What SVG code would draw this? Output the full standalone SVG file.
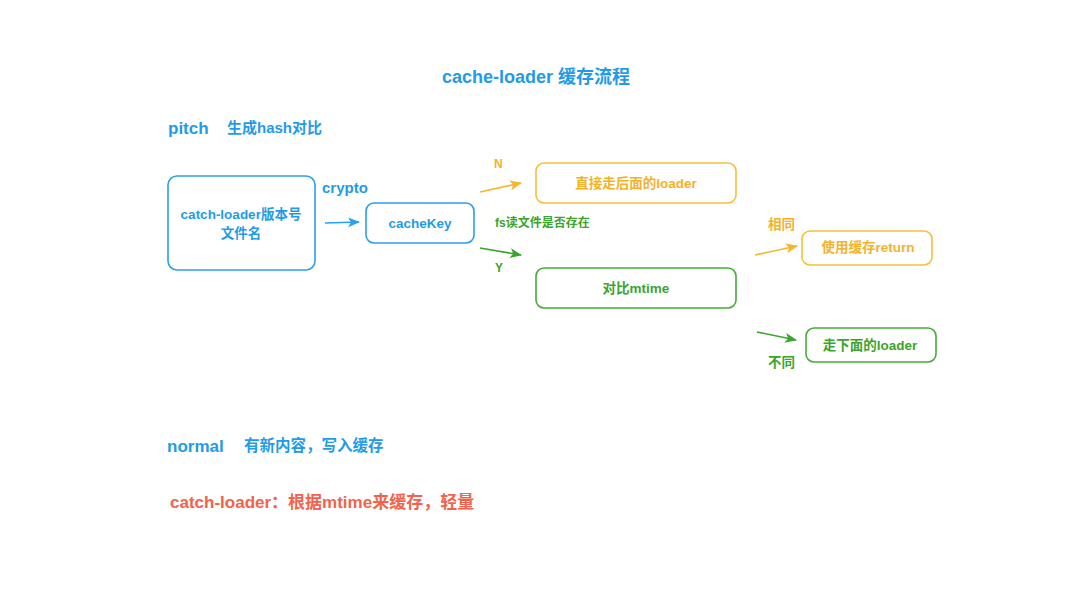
<svg xmlns="http://www.w3.org/2000/svg" width="1080" height="608" viewBox="0 0 1080 608">
<defs>
<style>
text{font-family:"Liberation Sans","Noto Sans CJK SC",sans-serif;font-weight:bold}
.b{fill:#1f9be8}.o{fill:#f5b229}.g{fill:#3aa52c}.r{fill:#f4624c}
.box{fill:#fff;stroke-width:1.6}
.bb{stroke:#2a9ff0}.ob{stroke:#f7bf3c}.gb{stroke:#45ad36}
.ln{fill:none;stroke-width:1.6}
</style>
<marker id="mb" markerWidth="12" markerHeight="12" refX="11" refY="6" orient="auto" markerUnits="userSpaceOnUse"><path d="M0,1 L12,6 L0,11 L3,6 Z" fill="#2a9ff0"/></marker>
<marker id="mo" markerWidth="12" markerHeight="12" refX="11" refY="6" orient="auto" markerUnits="userSpaceOnUse"><path d="M0,1 L12,6 L0,11 L3,6 Z" fill="#f7b52a"/></marker>
<marker id="mg" markerWidth="12" markerHeight="12" refX="11" refY="6" orient="auto" markerUnits="userSpaceOnUse"><path d="M0,1 L12,6 L0,11 L3,6 Z" fill="#3aa52c"/></marker>
</defs>
<rect width="1080" height="608" fill="#fff"/>
<text x="536" y="83" font-size="18" text-anchor="middle" class="b">cache-loader 缓存流程</text>
<text x="168" y="134" font-size="17" class="b">pitch</text>
<text x="227" y="133" font-size="15" class="b">生成hash对比</text>

<g id="connectors">
<line x1="325" y1="223" x2="359" y2="222" class="ln" stroke="#2a9ff0" marker-end="url(#mb)"/>
<line x1="480" y1="192" x2="521" y2="183" class="ln" stroke="#f7b52a" marker-end="url(#mo)"/>
<line x1="480" y1="248" x2="521" y2="255" class="ln" stroke="#3aa52c" marker-end="url(#mg)"/>
<line x1="755" y1="255" x2="797" y2="246" class="ln" stroke="#f7b52a" marker-end="url(#mo)"/>
<line x1="757" y1="332" x2="796" y2="340" class="ln" stroke="#3aa52c" marker-end="url(#mg)"/>
<text x="322" y="193" font-size="15" class="b">crypto</text>
<text x="494" y="168" font-size="12" class="o">N</text>
<text x="495" y="272" font-size="12" class="g">Y</text>
<text x="495" y="227" font-size="12" class="g">fs读文件是否存在</text>
<text x="768" y="229" font-size="13.5" class="o">相同</text>
<text x="768" y="367" font-size="13.5" class="g">不同</text>
</g>

<g id="node-source">
<rect x="168" y="176" width="147" height="94" rx="9" class="box bb"/>
<text x="241" y="219" font-size="13.5" text-anchor="middle" class="b">catch-loader版本号</text>
<text x="241" y="238" font-size="13.5" text-anchor="middle" class="b">文件名</text>
</g>
<g id="node-cachekey">
<rect x="366" y="203" width="108" height="40" rx="8" class="box bb"/>
<text x="420" y="228" font-size="13.5" text-anchor="middle" class="b">cacheKey</text>
</g>
<g id="node-next-loader">
<rect x="536" y="163" width="200" height="40" rx="8" class="box ob"/>
<text x="636" y="188" font-size="13.5" text-anchor="middle" class="o">直接走后面的loader</text>
</g>
<g id="node-mtime">
<rect x="536" y="268" width="200" height="40" rx="8" class="box gb"/>
<text x="636" y="293" font-size="13.5" text-anchor="middle" class="g">对比mtime</text>
</g>
<g id="node-return">
<rect x="802" y="231" width="130" height="34" rx="8" class="box ob"/>
<text x="868" y="252" font-size="13.5" text-anchor="middle" class="o">使用缓存return</text>
</g>
<g id="node-below-loader">
<rect x="806" y="328" width="130" height="34" rx="8" class="box gb"/>
<text x="870" y="350" font-size="13.5" text-anchor="middle" class="g">走下面的loader</text>
</g>

<text x="167" y="452" font-size="17" class="b">normal</text>
<text x="244" y="451" font-size="15.5" class="b">有新内容，写入缓存</text>
<text x="170" y="508" font-size="17" class="r">catch-loader：根据mtime来缓存，轻量</text>
</svg>
